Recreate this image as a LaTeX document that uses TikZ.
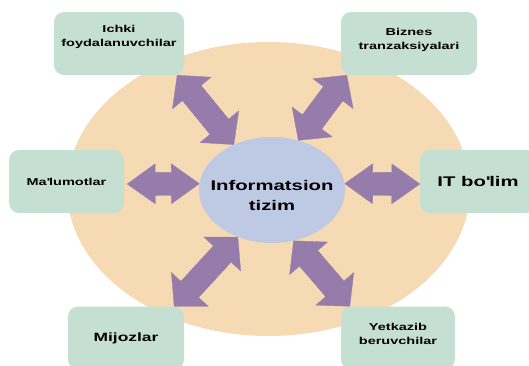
\documentclass[tikz,border=0pt]{standalone}
\usepackage{fontspec}
\setmainfont[FakeStretch=1.45]{Liberation Sans}
\definecolor{ispeach}{RGB}{246,218,180}
\definecolor{isgreen}{RGB}{197,224,211}
\definecolor{isblue}{RGB}{190,202,228}
\definecolor{ispurple}{RGB}{150,124,170}
\usetikzlibrary{calc,shapes.geometric}
\tikzset{
  infobox/.style={fill=isgreen, rounded corners=10pt, minimum width=#1, minimum height=63pt,
    inner sep=0pt, align=center, font=\fontsize{10}{14}\selectfont\bfseries},
  fatarrow/.style n args={3}{fill=ispurple, draw=ispurple, line width=0.3pt, line join=miter, to path={
    -- ($(\tikztostart)!#1!(\tikztotarget)!#2!90:(\tikztotarget)$)
    -- ($(\tikztostart)!#1!(\tikztotarget)!#3!90:(\tikztotarget)$)
    -- ($(\tikztotarget)!#1!(\tikztostart)!#3!-90:(\tikztostart)$)
    -- ($(\tikztotarget)!#1!(\tikztostart)!#2!-90:(\tikztostart)$)
    -- (\tikztotarget)
    -- ($(\tikztotarget)!#1!(\tikztostart)!#2!90:(\tikztostart)$)
    -- ($(\tikztotarget)!#1!(\tikztostart)!#3!90:(\tikztostart)$)
    -- ($(\tikztostart)!#1!(\tikztotarget)!#3!-90:(\tikztotarget)$)
    -- ($(\tikztostart)!#1!(\tikztotarget)!#2!-90:(\tikztotarget)$)
    -- cycle}},
  flatarrow/.style={fatarrow={28pt}{20pt}{11.5pt}},
  tiltarrow/.style={fatarrow={23pt}{25pt}{12pt}}
}
\begin{document}
\begin{tikzpicture}[x=1pt, y=-1pt]
\useasboundingbox (0,0) rectangle (529,365);
\clip (0,0) rectangle (529,365);
% Backdrop and centre
\node[ellipse, fill=ispeach, minimum width=403pt, minimum height=294pt, inner sep=0pt] (sahna) at (268.5,189) {};
\node[ellipse, fill=isblue, minimum width=146pt, minimum height=106pt, inner sep=0pt,
  label={[align=center, yshift=-5pt, font=\fontsize{14}{20}\selectfont\bfseries]center:Informatsion\\tizim}]
  (tizim) at (272,190) {};
% Surrounding boxes
\node[infobox=130pt, text depth=16pt] (ichki) at (119,43.5) {Ichki\\foydalanuvchilar};
\node[infobox=136pt, text depth=9pt] (biznes) at (409,43.5) {Biznes\\tranzaksiyalari};
\node[infobox=115pt] (malumot) at (66.5,181.5) {Ma\textquotesingle lumotlar};
\node[infobox=116pt, font=\fontsize{14}{16}\selectfont\bfseries] (it) at (478,181.5) {IT bo\textquotesingle lim};
\node[infobox=116pt, font=\fontsize{12}{14}\selectfont\bfseries] (mijoz) at (126,338) {Mijozlar};
\node[infobox=114pt, text depth=8pt] (yetkazib) at (398,338) {Yetkazib\\beruvchilar};
% Arrow ends on the boxes
\coordinate (ichki-uch) at ([xshift=-7pt]ichki.south east);
\coordinate (biznes-uch) at ([xshift=6pt]biznes.south west);
\coordinate (malumot-uch) at ([xshift=3pt,yshift=-2.5pt]malumot.east);
\coordinate (it-uch) at ([yshift=-2.5pt]it.west);
\coordinate (mijoz-uch) at ([xshift=-10pt]mijoz.north east);
\coordinate (yetkazib-uch) at ([xshift=9pt]yetkazib.north west);
% Double arrows
\path[tiltarrow] (ichki-uch) to (tizim.130);
\path[tiltarrow] (biznes-uch) to (tizim.62);
\path[flatarrow] (malumot-uch) to (tizim.175);
\path[flatarrow] (tizim.5) to (it-uch);
\path[tiltarrow] (tizim.234) to (mijoz-uch);
\path[tiltarrow] (tizim.293) to (yetkazib-uch);
\end{tikzpicture}
\end{document}
